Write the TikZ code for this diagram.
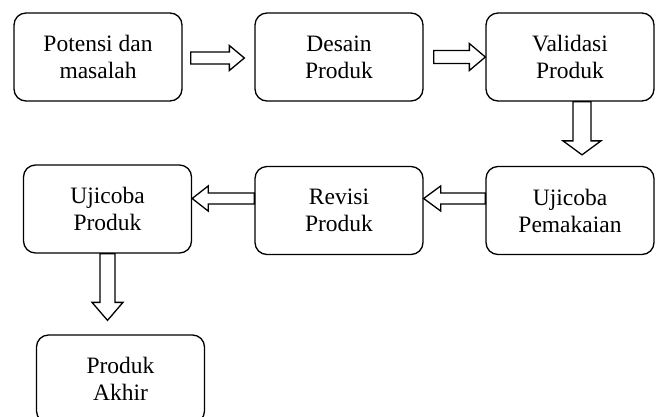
\documentclass[tikz,border=0pt]{standalone}
\usepackage{fontspec}
\setmainfont{Liberation Serif}
\usetikzlibrary{calc}
\tikzset{
  box/.style={draw, line width=1.3pt, rounded corners=12pt, minimum width=168pt,
    minimum height=88pt, align=center, inner sep=0pt,
    font=\fontsize{23.5}{27}\selectfont},
  arr/.style={draw, line width=1.3pt, fill=white, line join=miter},
}
% horizontal hollow arrow: start, tip, half shaft, half head, signed head offset
\newcommand\harr[5]{\path[arr] ($(#1)+(0,-#3)$) -- ($(#2)+(#5,-#3)$) -- ($(#2)+(#5,-#4)$) -- (#2) -- ($(#2)+(#5,#4)$) -- ($(#2)+(#5,#3)$) -- ($(#1)+(0,#3)$) -- cycle;}
% vertical hollow arrow
\newcommand\varr[5]{\path[arr] ($(#1)+(-#3,0)$) -- ($(#2)+(-#3,#5)$) -- ($(#2)+(-#4,#5)$) -- (#2) -- ($(#2)+(#4,#5)$) -- ($(#2)+(#3,#5)$) -- ($(#1)+(#3,0)$) -- cycle;}
\begin{document}
\begin{tikzpicture}[x=1pt,y=-1pt]
\useasboundingbox (0,0) rectangle (658,416);
\clip (0,0) rectangle (658,416);
\node[box] (p1) at (98,57) {Potensi dan\\masalah};
\node[box] (p2) at (339,57) {Desain\\Produk};
\node[box] (p3) at (570,57) {Validasi\\Produk};
\node[box] (p4) at (570,210.5) {Ujicoba\\Pemakaian};
\node[box] (p5) at (339,210.5) {Revisi\\Produk};
\node[box] (p6) at (107.5,209) {Ujicoba\\Produk};
\node[box] (p7) at (120.5,379) {Produk\\Akhir};
% arrows
\coordinate (s1) at ($(p1.east)+(8,1)$);
\coordinate (t1) at ($(p2.west)+(-10,1)$);
\harr{s1}{t1}{6}{12.5}{-15}
\coordinate (s2) at ($(p2.east)+(10,0)$);
\coordinate (t2) at ($(p3.west)+(0,0)$);
\harr{s2}{t2}{6.5}{13.5}{-16}
\coordinate (s3) at ($(p3.south)+(12,0)$);
\coordinate (t3) at ($(p4.north)+(12,-11)$);
\varr{s3}{t3}{9}{19}{-14}
\coordinate (s4) at ($(p4.west)+(0,-12)$);
\coordinate (t4) at ($(p5.east)+(0,-12)$);
\harr{s4}{t4}{5.5}{12.5}{17}
\coordinate (s5) at ($(p5.west)+(0,-12)$);
\coordinate (t5) at ($(p6.east)+(0,-10.5)$);
\harr{s5}{t5}{5.5}{12.5}{16}
\coordinate (s6) at (p6.south);
\coordinate (t6) at ($(p7.north)+(-13,-14)$);
\varr{s6}{t6}{7.5}{15.5}{-18}
\end{tikzpicture}
\end{document}
